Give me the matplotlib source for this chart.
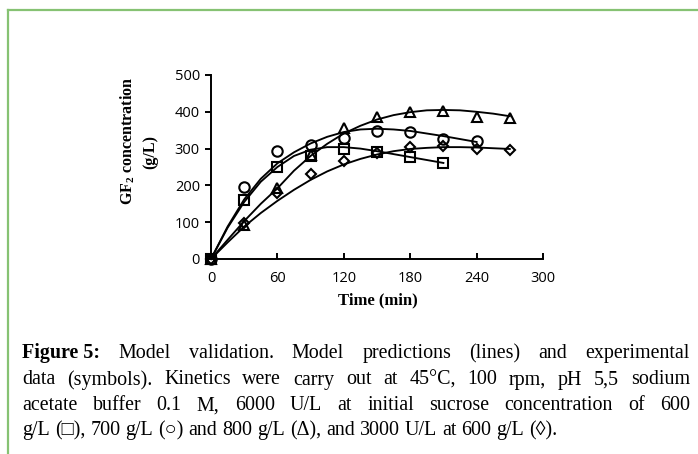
import numpy as np
import matplotlib
matplotlib.use("Agg")
import matplotlib.pyplot as plt
from matplotlib.lines import Line2D

W, H = 698, 454

# experimental data (symbols)
t_exp = [0, 30, 60, 90, 120, 150, 180, 210, 240, 270]
sq_exp = [0, 160, 249, 280, 298, 290, 276, 262]            # 600 g/L, 6000 U/L
ci_exp = [0, 196, 294, 311, 330, 348, 346, 325, 321]       # 700 g/L
tr_exp = [0, 92, 192, 283, 355, 387, 400, 403, 385, 382]   # 800 g/L
di_exp = [0, 97, 180, 230, 266, 288, 303, 307, 298, 296]   # 3000 U/L, 600 g/L

# model predictions (lines)
t_mod = [0, 15, 30, 45, 60, 75, 90, 105, 120, 135, 150, 165, 180, 195, 210, 225, 240, 255, 270]
sq_mod = [0, 85, 155, 210, 250, 280, 297, 304, 304, 300, 293, 285, 277, 269, 261]
ci_mod = [0, 88, 162, 218, 260, 290, 314, 332, 345, 352, 354, 352, 348, 341, 334, 326, 318]
tr_mod = [0, 52, 103, 150, 192, 240, 280, 313, 341, 362, 379, 391, 399, 404, 405, 404, 400, 395, 388]
di_mod = [0, 45, 88, 125, 158, 188, 215, 238, 257, 272, 284, 293, 299, 302, 304, 304, 303, 301, 299]

x_ticks = [0, 60, 120, 180, 240, 300]
y_ticks = [0, 100, 200, 300, 400, 500]

caption = [
    [("Figure 5:", True), ("Model", False), ("validation.", False), ("Model", False), ("predictions", False),
     ("(lines)", False), ("and", False), ("experimental", False)],
    [(w, False) for w in "data (symbols). Kinetics were carry out at 45°C, 100 rpm, pH 5,5 sodium".split(" ")],
    [(w, False) for w in "acetate buffer 0.1 M, 6000 U/L at initial sucrose concentration of 600".split(" ")],
    [(w, False) for w in "g/L (□), 700 g/L (○) and 800 g/L (Δ), and 3000 U/L at 600 g/L (◊).".split(" ")],
]

fig = plt.figure(figsize=(W / 100, H / 100), dpi=100)
ax = fig.add_axes([211 / W, 1 - 259 / H, 332 / W, 184 / H])

for y in (sq_mod, ci_mod, tr_mod, di_mod):
    ax.plot(t_mod[:len(y)], y, color="black", lw=1.35, clip_on=False, zorder=2)

mk = dict(mfc="none", mec="black", mew=1.5, ls="none", clip_on=False, zorder=3)
ax.plot(t_exp[:len(sq_exp)], sq_exp, marker="s", ms=7, **mk)
ax.plot(t_exp[:len(ci_exp)], ci_exp, marker="o", ms=7.5, **mk)
ax.plot(t_exp[:len(tr_exp)], tr_exp, marker="^", ms=7.5, **mk)
ax.plot(t_exp[:len(di_exp)], di_exp, marker="D", ms=5.5, **mk)

ax.set_xlim(0, 300)
ax.set_ylim(0, 500)
ax.set_xticks(x_ticks)
ax.set_yticks(y_ticks)
for s in ("top", "right"):
    ax.spines[s].set_visible(False)
for s in ("left", "bottom"):
    ax.spines[s].set_linewidth(1.4)
ax.tick_params(axis="x", direction="in", length=4, width=1.4, pad=9, labelsize=10.5)
ax.tick_params(axis="y", direction="out", length=4, width=1.4, pad=4, labelsize=10.5)
for lab in ax.get_xticklabels() + ax.get_yticklabels():
    lab.set_family("Open Sans")

serif = ["Liberation Serif", "DejaVu Serif"]
fig.text(378 / W, 1 - 300 / H, "Time (min)", ha="center", va="center",
         family=serif, weight="bold", fontsize=12)
fig.text(128 / W, 1 - 141 / H, r"GF$_\mathregular{2}$ concentration", ha="center", va="center",
         rotation=90, family=serif, weight="bold", fontsize=11.5)
fig.text(150 / W, 1 - 152 / H, "(g/L)", ha="center", va="center",
         rotation=90, family=serif, weight="bold", fontsize=11.5)

# green frame
green = "#86c273"
fig.add_artist(Line2D([8 / W, 1], [1 - 10 / H, 1 - 10 / H], color=green, lw=1.6))
fig.add_artist(Line2D([8 / W, 8 / W], [0, 1 - 10 / H], color=green, lw=1.6))

# justified caption
r = fig.canvas.get_renderer()
fs = 14.4
x0, x1 = 22, 690
baselines = [358, 384.5, 410.5, 435]


def wid(s, bold=False):
    t = fig.text(0, 0, s, family=serif, fontsize=fs, weight="bold" if bold else "normal")
    w = t.get_window_extent(r).width
    t.remove()
    return w


space = wid("x x") - wid("xx")
for i, line in enumerate(caption):
    widths = [wid(w, b) for w, b in line]
    if i < len(caption) - 1:
        gap = (x1 - x0 - sum(widths)) / (len(line) - 1)
    else:
        gap = space
    x = x0
    for (w, b), wd in zip(line, widths):
        fig.text(x / W, 1 - baselines[i] / H, w, family=serif, fontsize=fs,
                 weight="bold" if b else "normal", va="baseline", ha="left")
        x += wd + gap

fig.savefig("out.png", dpi=100)
